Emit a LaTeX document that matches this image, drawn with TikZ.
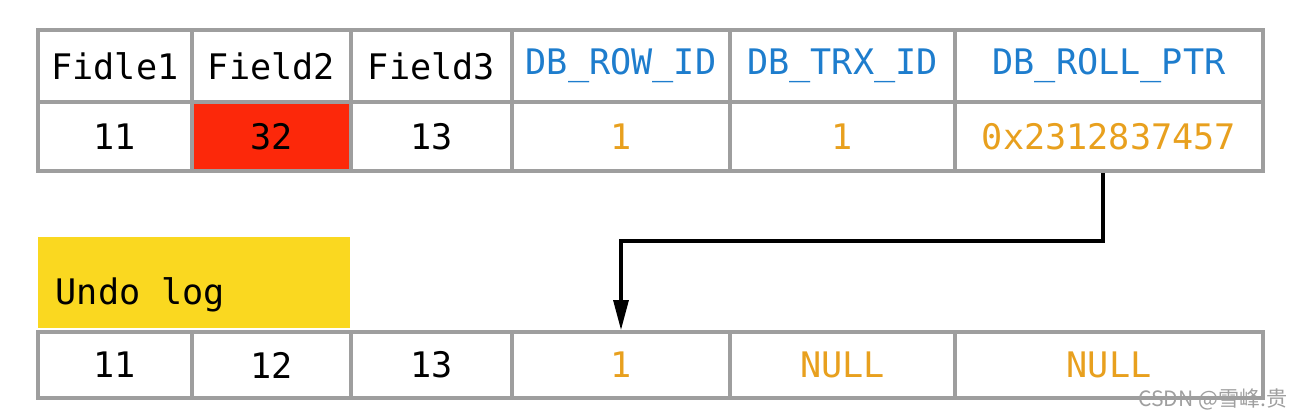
\documentclass[tikz,border=0pt]{standalone}
\usepackage{fontspec}
\setmonofont{DejaVu Sans Mono}
\newfontfamily\cjkfont{Noto Sans CJK SC}
\usetikzlibrary{arrows.meta}

\definecolor{gridgray}{RGB}{158,158,158}
\definecolor{hdrblue}{RGB}{30,125,205}
\definecolor{valorange}{RGB}{232,160,30}
\definecolor{cellred}{RGB}{252,40,10}
\definecolor{undoyellow}{RGB}{250,216,32}

\begin{document}
\begin{tikzpicture}[x=0.01cm,y=-0.01cm,
	cell/.style={draw=gridgray,line width=1.1pt,inner sep=0pt,
		font=\ttfamily\fontsize{10}{12}\selectfont},
	hdr/.style={cell,minimum height=0.72cm,text=hdrblue},
	val/.style={cell,minimum height=0.69cm,text=valorange},
	old/.style={cell,minimum height=0.66cm,text=valorange}]

	\useasboundingbox (0,0) rectangle (1302,418);

	% current row
	\node[hdr,text=black,minimum width=1.54cm] (h1) at (115,66) {Fidle1};
	\node[hdr,text=black,minimum width=1.59cm] (h2) at (271.5,66) {Field2};
	\node[hdr,text=black,minimum width=1.61cm] (h3) at (431.5,66) {Field3};
	\node[hdr,minimum width=2.18cm] (h4) at (621,66) {DB\_ROW\_ID};
	\node[hdr,minimum width=2.25cm] (h5) at (842.5,66) {DB\_TRX\_ID};
	\node[hdr,minimum width=3.08cm] (h6) at (1109,66) {DB\_ROLL\_PTR};

	\node[val,text=black,minimum width=1.54cm] (v1) at (115,136.5) {11};
	\node[val,text=black,fill=cellred,minimum width=1.59cm] (v2) at (271.5,136.5) {32};
	\node[val,text=black,minimum width=1.61cm] (v3) at (431.5,136.5) {13};
	\node[val,minimum width=2.18cm] (v4) at (621,136.5) {1};
	\node[val,minimum width=2.25cm] (v5) at (842.5,136.5) {1};
	\node[val,minimum width=3.08cm] (v6) at (1109,136.5) {0x2312837457};

	% undo log
	\node[fill=undoyellow,minimum width=3.12cm,minimum height=0.91cm,inner sep=0pt] (undo) at (194,282.5) {};
	\node[anchor=west,inner sep=0pt,font=\ttfamily\fontsize{10}{12}\selectfont] (undolbl) at (55,295) {Undo log};

	\node[old,text=black,minimum width=1.54cm] (u1) at (115,365) {11};
	\node[old,text=black,minimum width=1.59cm] (u2) at (271.5,365) {12};
	\node[old,text=black,minimum width=1.61cm] (u3) at (431.5,365) {13};
	\node[old,minimum width=2.18cm] (u4) at (621,365) {1};
	\node[old,minimum width=2.25cm] (u5) at (842.5,365) {NULL};
	\node[old,minimum width=3.08cm] (u6) at (1109,365) {NULL};

	\coordinate (bend) at (621,241);
	\draw[line width=0.9pt,-{Triangle[length=0.3cm,width=0.15cm]}]
		([xshift=-0.06cm]v6.south) |- (bend) -- (u4.north);

	\node[anchor=base east,inner sep=0pt,text=gray!75,
		font=\cjkfont\fontsize{6}{7}\selectfont] (mark) at (1288,406) {CSDN @雪峰.贵};

\end{tikzpicture}
\end{document}
